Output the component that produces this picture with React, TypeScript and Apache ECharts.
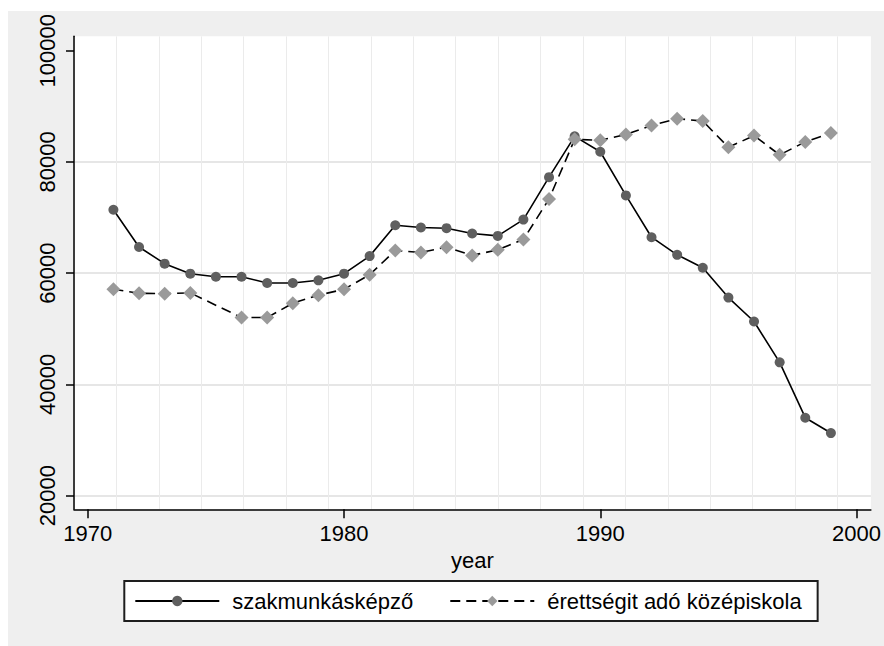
import React, { useEffect, useRef } from "react";
import * as echarts from "echarts";

const years = [
  1971, 1972, 1973, 1974, 1975, 1976, 1977, 1978, 1979, 1980,
  1981, 1982, 1983, 1984, 1985, 1986, 1987, 1988, 1989, 1990,
  1991, 1992, 1993, 1994, 1995, 1996, 1997, 1998, 1999,
];
const szakmunkaskepzo = [
  71400, 64700, 61700, 59900, 59350, 59350, 58230, 58230, 58710, 59900,
  63060, 68610, 68200, 68080, 67130, 66700, 69630, 77260, 84600, 81830,
  73980, 66460, 63290, 60970, 55600, 51300, 43960, 34000, 31240,
];
const erettsegit = [
  57100, 56380, 56310, 56440, null, 52010, 52010, 54590, 56030, 57100,
  59710, 64080, 63720, 64670, 63190, 64190, 66050, 73320, 84060, 83890,
  84940, 86570, 87770, 87360, 82630, 84730, 81270, 83600, 85210,
];
const seriesNames = ["szakmunkásképző", "érettségit adó középiskola"];
const xTicks = [1970, 1980, 1990, 2000];
const yTicks = [20000, 40000, 60000, 80000, 100000];
const yGridValues = [20000, 40000, 60000, 80000];
const vGridValues = [0, 1, 2, 3, 4, 5, 6, 7, 8, 9, 10, 11, 12, 13, 14, 15, 16, 17, 18];

const X_MIN = 1969.462;
const X_MAX = 2000.561;
const Y_MIN = 17529;
const Y_MAX = 102578;
const V_MAX = 18.79;

const FONT = "'Liberation Sans', Arial, Helvetica, sans-serif";

export default function App() {
  const ref = useRef<HTMLDivElement>(null);

  useEffect(() => {
    if (!ref.current) return;
    const chart = echarts.init(ref.current, undefined, { renderer: "svg" });
    const s1 = years.map((y, i) => [y, szakmunkaskepzo[i]]);
    const s2 = years.map((y, i) => [y, erettsegit[i]]);
    chart.setOption({
      animation: false,
      backgroundColor: "#efefef",
      textStyle: { fontFamily: FONT, color: "#000" },
      grid: {
        show: true,
        backgroundColor: "#ffffff",
        borderWidth: 0,
        left: 66,
        top: 23.3,
        right: 12.3,
        bottom: 136.7,
      },
      legend: {
        data: seriesNames,
        left: 116.3,
        top: 570,
        orient: "horizontal",
        backgroundColor: "#ffffff",
        borderColor: "#1e1e1e",
        borderWidth: 2,
        borderRadius: 0,
        padding: [8, 16, 8, 10],
        itemWidth: 84,
        itemHeight: 13,
        itemGap: 36,
        textStyle: {
          fontFamily: FONT,
          fontSize: 22,
          color: "#000",
          lineHeight: 24,
          padding: [0, 0, 0, 8],
        },
      },
      xAxis: [
        {
          type: "value",
          min: X_MIN,
          max: X_MAX,
          name: "year",
          nameLocation: "middle",
          nameGap: 34,
          nameTextStyle: { fontSize: 22, color: "#000", fontFamily: FONT },
          axisLine: { show: true, lineStyle: { color: "#000", width: 1.5 } },
          axisTick: {
            show: true,
            customValues: xTicks,
            length: 9,
            lineStyle: { color: "#000", width: 1.5 },
          },
          axisLabel: {
            customValues: xTicks,
            fontSize: 22,
            color: "#000",
            margin: 13,
            fontFamily: FONT,
            formatter: (v: number) => String(v),
          },
          splitLine: { show: false },
        },
        {
          type: "value",
          min: 0,
          max: V_MAX,
          position: "bottom",
          axisLine: { show: false },
          axisTick: { show: false, customValues: vGridValues },
          axisLabel: { show: false, customValues: vGridValues },
          splitLine: { show: true, lineStyle: { color: "#ebebeb", width: 1 } },
        },
      ],
      yAxis: [
        {
          type: "value",
          min: Y_MIN,
          max: Y_MAX,
          axisLine: { show: true, lineStyle: { color: "#000", width: 1.5 } },
          axisTick: {
            show: true,
            customValues: yTicks,
            length: 8,
            lineStyle: { color: "#000", width: 1.5 },
          },
          axisLabel: {
            customValues: yTicks,
            fontSize: 22,
            color: "#000",
            rotate: 90,
            margin: 16,
            fontFamily: FONT,
            formatter: (v: number) => String(v),
          },
          splitLine: { show: false },
        },
        {
          type: "value",
          min: Y_MIN,
          max: Y_MAX,
          axisLine: { show: false },
          axisTick: { show: false, customValues: yGridValues },
          axisLabel: { show: false, customValues: yGridValues },
          splitLine: { show: true, lineStyle: { color: "#e6e6e6", width: 2 } },
        },
      ],
      series: [
        {
          name: seriesNames[0],
          type: "line",
          xAxisIndex: 0,
          yAxisIndex: 0,
          data: s1,
          symbol: "circle",
          symbolSize: 10,
          itemStyle: { color: "#5f5f5f" },
          lineStyle: { color: "#000", width: 1.6, type: "solid" },
          z: 3,
        },
        {
          name: seriesNames[1],
          type: "line",
          xAxisIndex: 0,
          yAxisIndex: 0,
          data: s2,
          connectNulls: true,
          symbol: "diamond",
          symbolSize: 14,
          itemStyle: { color: "#9a9a9a" },
          lineStyle: { color: "#000", width: 1.6, type: [10, 6] },
          z: 4,
        },
      ],
    });
    return () => chart.dispose();
  }, []);

  return (
    <div style={{ position: "fixed", inset: 0, background: "#ffffff" }}>
      <div
        ref={ref}
        style={{ position: "absolute", left: 8, top: 11, width: 876, height: 635 }}
      />
    </div>
  );
}
